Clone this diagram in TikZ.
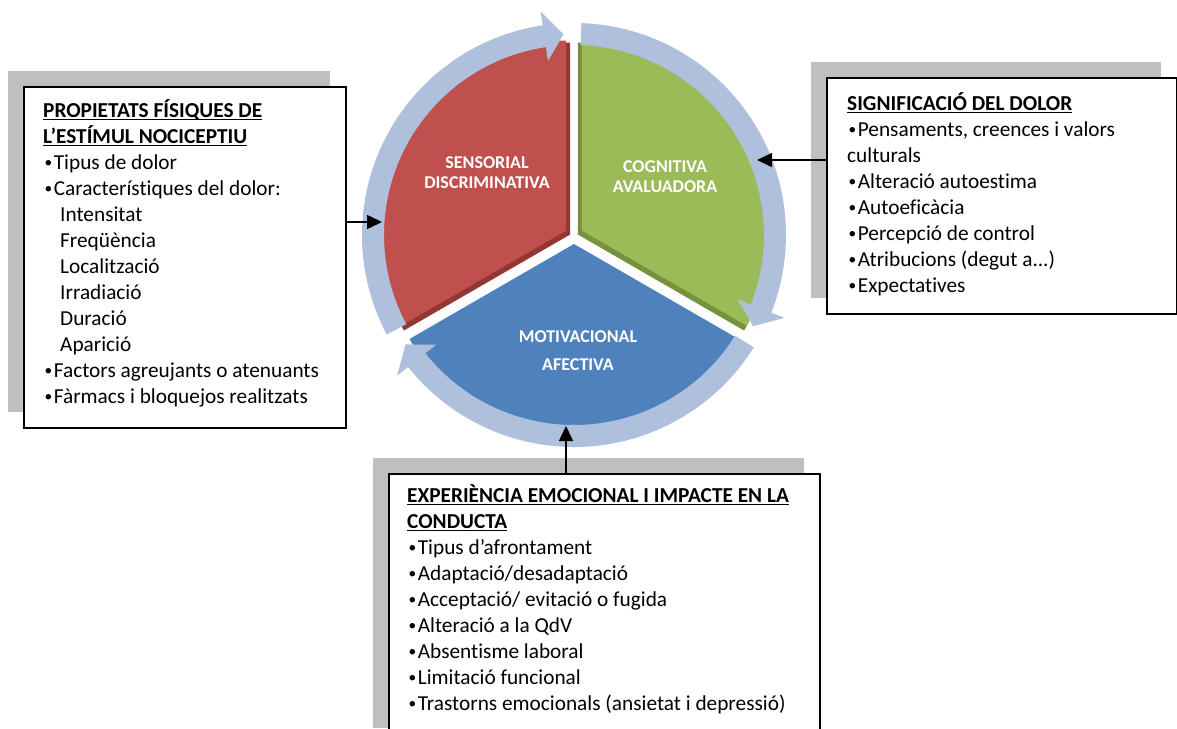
\documentclass[tikz,border=0pt]{standalone}
\usepackage{fontspec}
\setmainfont{Carlito}[Ligatures=NoCommon]
\usepackage{graphicx}
\usetikzlibrary{positioning,calc,arrows.meta,shadows}

\definecolor{sensred}{HTML}{C0504D}
\definecolor{sensreddark}{HTML}{943634}
\definecolor{cogngreen}{HTML}{9BBB59}
\definecolor{cogngreendark}{HTML}{76923C}
\definecolor{motivblue}{HTML}{4F81BD}
\definecolor{cyclering}{HTML}{AFC0DC}
\definecolor{shadowgray}{HTML}{BFBFBF}

% underlined bold title line
\newlength{\titlewd}
\newcommand{\titleline}[1]{\settowidth{\titlewd}{\textbf{#1}}\textbf{#1}\hspace*{-\titlewd}\rule[-3pt]{\titlewd}{1.5pt}}
% small bullet as in the boxes
\newcommand{\itembullet}{\makebox[0.5em][c]{\raisebox{1.6pt}{\scalebox{0.72}{•}}}}

% one arrow of the ring: tail angle, tip angle
\newcommand{\cyclearrow}[2]{%
  \pgfmathsetmacro{\headbase}{#2+5.5}
  \fill[cyclering] ($(hub)+(#1:212)$) arc[start angle=#1, end angle=\headbase, radius=212]
    -- ($(hub)+(\headbase:226)$) -- ($(hub)+(#2:201)$) -- ($(hub)+(\headbase:176)$)
    -- ($(hub)+(\headbase:190)$) arc[start angle=\headbase, end angle=#1, radius=190] -- cycle;}

\begin{document}
\begin{tikzpicture}[
    x=1pt, y=1pt,
    infobox/.style={draw, line width=1.6pt, fill=white, rectangle, inner sep=0pt, anchor=north west,
      drop shadow={shadow xshift=-16pt, shadow yshift=16pt, opacity=1, fill=shadowgray}},
    boxtext/.style={anchor=north west, inner sep=0pt, align=left, font=\fontsize{21.3}{26}\selectfont},
    wedgelabel/.style={text=white, align=center, font=\bfseries\fontsize{18}{20}\selectfont},
    link/.style={line width=1.5pt, -{Triangle[length=15pt, width=14pt]}}
  ]
    \useasboundingbox (0,0) rectangle (1177,-728);
    \clip (0,0) rectangle (1177,-728);

    % the three parts of the pie
    \coordinate (hub) at (574,-235);
    \coordinate (redhub) at ($(hub)+(150:9)$);
    \coordinate (greenhub) at ($(hub)+(30:9)$);
    \coordinate (bluehub) at ($(hub)+(270:9)$);

    \fill[sensreddark] ([shift={(4,-4)}]redhub) -- ++(90:192) arc[start angle=90, end angle=210, radius=192] -- cycle;
    \fill[sensred] (redhub) -- ++(90:190) arc[start angle=90, end angle=210, radius=190] -- cycle;
    \fill[cogngreendark] ([shift={(-4,-4)}]greenhub) -- ++(90:192) arc[start angle=90, end angle=-30, radius=192] -- cycle;
    \fill[cogngreen] (greenhub) -- ++(90:190) arc[start angle=90, end angle=-30, radius=190] -- cycle;
    \fill[motivblue] (bluehub) -- ++(-30:190) arc[start angle=-30, end angle=-150, radius=190] -- cycle;

    % ring of arrows
    \cyclearrow{208}{93}
    \cyclearrow{88}{-27}
    \cyclearrow{-32}{-147}

    \node[wedgelabel] (sensorial) at (487,-173) {SENSORIAL\\DISCRIMINATIVA};
    \node[wedgelabel] (cognitiva) at (665,-176.5) {COGNITIVA\\AVALUADORA};
    \node[wedgelabel] (motivacional) at (578,-351) {MOTIVACIONAL\\[8pt]AFECTIVA};

    % boxes
    \node[infobox, minimum width=322pt, minimum height=341pt] (fisiques) at (23,-86) {};
    \node[boxtext] (fisiquestxt) at (43,-98.8) {\strut\titleline{PROPIETATS FÍSIQUES DE}\\
      \titleline{L’ESTÍMUL NOCICEPTIU}\\
      \itembullet Tipus de dolor\\
      \itembullet Característiques del dolor:\\
      \hspace*{17pt}Intensitat\\
      \hspace*{17pt}Freqüència\\
      \hspace*{17pt}Localització\\
      \hspace*{17pt}Irradiació\\
      \hspace*{17pt}Duració\\
      \hspace*{17pt}Aparició\\
      \itembullet Factors agreujants o atenuants\\
      \itembullet Fàrmacs i bloquejos realitzats};

    \node[infobox, minimum width=350pt, minimum height=236pt] (significacio) at (826,-77) {};
    \node[boxtext] (significaciotxt) at (847,-91.8) {\strut\titleline{SIGNIFICACIÓ DEL DOLOR}\\
      \itembullet Pensaments, creences i valors\\
      culturals\\
      \itembullet Alteració autoestima\\
      \itembullet Autoeficàcia\\
      \itembullet Percepció de control\\
      \itembullet Atribucions (degut a{.}{.}{.})\\
      \itembullet Expectatives};

    \node[infobox, minimum width=431pt, minimum height=270pt] (experiencia) at (388,-473) {};
    \node[boxtext] (experienciatxt) at (407,-483.8) {\strut\titleline{EXPERIÈNCIA EMOCIONAL I IMPACTE EN LA}\\
      \titleline{CONDUCTA}\\
      \itembullet Tipus d’afrontament\\
      \itembullet Adaptació/desadaptació\\
      \itembullet Acceptació/ evitació o fugida\\
      \itembullet Alteració a la QdV\\
      \itembullet Absentisme laboral\\
      \itembullet Limitació funcional\\
      \itembullet Trastorns emocionals (ansietat i depressió)};

    % connectors
    \coordinate (sensin) at (382,-222);
    \coordinate (cognin) at (757,-160);
    \coordinate (motivin) at (566,-426);
    \draw[link] (sensin -| fisiques.east) -- (sensin);
    \draw[link] (cognin -| significacio.west) -- (cognin);
    \draw[link] (motivin |- experiencia.north) -- (motivin);
  \end{tikzpicture}
\end{document}
